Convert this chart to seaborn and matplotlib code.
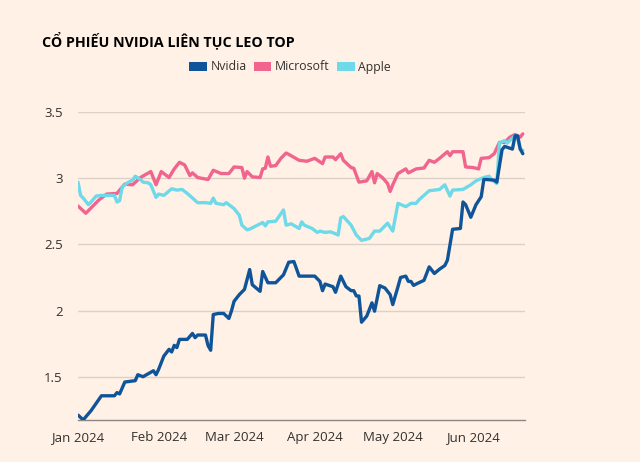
import matplotlib
matplotlib.use("Agg")
import matplotlib.pyplot as plt
from matplotlib.patches import Patch
import pandas as pd
import seaborn as sns

title = "CỔ PHIẾU NVIDIA LIÊN TỤC LEO TOP"
series_names = ["Nvidia", "Microsoft", "Apple"]
series_colors = ["#0F5499", "#F0648E", "#6ED9E8"]

msft_dates = ["2024-01-01", "2024-01-04", "2024-01-09", "2024-01-12", "2024-01-16", "2024-01-17",
              "2024-01-19", "2024-01-22", "2024-01-25", "2024-01-29", "2024-01-31", "2024-02-02",
              "2024-02-05", "2024-02-07", "2024-02-09", "2024-02-11", "2024-02-13", "2024-02-14",
              "2024-02-16", "2024-02-20", "2024-02-22", "2024-02-25", "2024-02-28", "2024-03-01",
              "2024-03-04", "2024-03-05", "2024-03-06", "2024-03-08", "2024-03-11", "2024-03-12",
              "2024-03-13", "2024-03-14", "2024-03-15", "2024-03-17", "2024-03-19", "2024-03-21",
              "2024-03-22", "2024-03-26", "2024-03-29", "2024-04-01", "2024-04-04", "2024-04-05",
              "2024-04-08", "2024-04-09", "2024-04-11", "2024-04-12", "2024-04-15", "2024-04-16",
              "2024-04-18", "2024-04-21", "2024-04-23", "2024-04-24", "2024-04-25", "2024-04-27",
              "2024-04-29", "2024-04-30", "2024-05-01", "2024-05-03", "2024-05-06", "2024-05-07",
              "2024-05-10", "2024-05-13", "2024-05-15", "2024-05-17", "2024-05-19", "2024-05-22",
              "2024-05-23", "2024-05-24", "2024-05-28", "2024-05-29", "2024-06-01", "2024-06-03",
              "2024-06-04", "2024-06-07", "2024-06-09", "2024-06-11", "2024-06-13", "2024-06-15",
              "2024-06-17", "2024-06-19", "2024-06-20"]
msft_vals = [2.79, 2.735, 2.835, 2.88, 2.885, 2.91,
             2.955, 2.95, 3.005, 3.05, 2.95, 3.05,
             3.005, 3.07, 3.12, 3.10, 3.02, 3.04,
             3.005, 2.99, 3.06, 3.035, 3.035, 3.085,
             3.08, 3.0, 3.05, 3.01, 3.005, 3.07,
             3.075, 3.16, 3.09, 3.095, 3.15, 3.19,
             3.18, 3.135, 3.128, 3.15, 3.11, 3.16,
             3.16, 3.14, 3.185, 3.135, 3.08, 3.075,
             2.97, 2.98, 3.05, 2.965, 3.035, 3.005,
             2.96, 2.90, 2.95, 3.035, 3.07, 3.04,
             3.07, 3.077, 3.135, 3.12, 3.15, 3.20,
             3.17, 3.20, 3.20, 3.085, 3.08, 3.07,
             3.15, 3.155, 3.185, 3.27, 3.27, 3.31,
             3.33, 3.31, 3.335]

aapl_dates = ["2024-01-01", "2024-01-02", "2024-01-03", "2024-01-05", "2024-01-06", "2024-01-08",
              "2024-01-10", "2024-01-15", "2024-01-16", "2024-01-17", "2024-01-18", "2024-01-20",
              "2024-01-22", "2024-01-23", "2024-01-25", "2024-01-26", "2024-01-28", "2024-01-29",
              "2024-01-31", "2024-02-01", "2024-02-03", "2024-02-06", "2024-02-08", "2024-02-10",
              "2024-02-12", "2024-02-14", "2024-02-16", "2024-02-19", "2024-02-21", "2024-02-22",
              "2024-02-23", "2024-02-26", "2024-02-27", "2024-03-01", "2024-03-03", "2024-03-04",
              "2024-03-06", "2024-03-07", "2024-03-10", "2024-03-12", "2024-03-13", "2024-03-14",
              "2024-03-17", "2024-03-20", "2024-03-21", "2024-03-23", "2024-03-26", "2024-03-27",
              "2024-03-28", "2024-03-31", "2024-04-02", "2024-04-03", "2024-04-05", "2024-04-07",
              "2024-04-09", "2024-04-10", "2024-04-11", "2024-04-12", "2024-04-15", "2024-04-17",
              "2024-04-19", "2024-04-22", "2024-04-24", "2024-04-26", "2024-04-29", "2024-05-01",
              "2024-05-03", "2024-05-06", "2024-05-08", "2024-05-10", "2024-05-11", "2024-05-15",
              "2024-05-17", "2024-05-19", "2024-05-21", "2024-05-23", "2024-05-24", "2024-05-28",
              "2024-05-31", "2024-06-02", "2024-06-05", "2024-06-07", "2024-06-08", "2024-06-10",
              "2024-06-11", "2024-06-13", "2024-06-14", "2024-06-17", "2024-06-18", "2024-06-19",
              "2024-06-20"]
aapl_vals = [2.97, 2.87, 2.85, 2.80, 2.82, 2.865,
             2.87, 2.87, 2.82, 2.83, 2.935, 2.965,
             2.985, 3.015, 2.99, 2.97, 2.965, 2.95,
             2.855, 2.88, 2.87, 2.92, 2.91, 2.915,
             2.885, 2.85, 2.815, 2.815, 2.81, 2.85,
             2.81, 2.80, 2.815, 2.77, 2.72, 2.645,
             2.61, 2.615, 2.645, 2.665, 2.64, 2.67,
             2.675, 2.76, 2.645, 2.655, 2.62, 2.67,
             2.645, 2.62, 2.59, 2.60, 2.59, 2.595,
             2.58, 2.57, 2.70, 2.71, 2.645, 2.57,
             2.53, 2.545, 2.60, 2.60, 2.66, 2.60,
             2.81, 2.785, 2.81, 2.81, 2.835, 2.905,
             2.91, 2.915, 2.95, 2.865, 2.91, 2.915,
             2.95, 2.98, 3.005, 3.015, 2.99, 2.96,
             3.265, 3.285, 3.265, 3.32, 3.30, 3.22,
             3.21]

nvda_dates = ["2024-01-01", "2024-01-03", "2024-01-06", "2024-01-10", "2024-01-15", "2024-01-16",
              "2024-01-17", "2024-01-19", "2024-01-23", "2024-01-24", "2024-01-26", "2024-01-30",
              "2024-01-31", "2024-02-01", "2024-02-03", "2024-02-05", "2024-02-06", "2024-02-07",
              "2024-02-08", "2024-02-09", "2024-02-12", "2024-02-14", "2024-02-15", "2024-02-16",
              "2024-02-19", "2024-02-20", "2024-02-21", "2024-02-22", "2024-02-24", "2024-02-26",
              "2024-02-28", "2024-02-29", "2024-03-01", "2024-03-03", "2024-03-05", "2024-03-07",
              "2024-03-08", "2024-03-11", "2024-03-12", "2024-03-14", "2024-03-17", "2024-03-20",
              "2024-03-22", "2024-03-24", "2024-03-26", "2024-04-01", "2024-04-03", "2024-04-04",
              "2024-04-05", "2024-04-08", "2024-04-09", "2024-04-11", "2024-04-13", "2024-04-15",
              "2024-04-16", "2024-04-17", "2024-04-18", "2024-04-19", "2024-04-21", "2024-04-23",
              "2024-04-24", "2024-04-26", "2024-04-28", "2024-04-30", "2024-05-01", "2024-05-03",
              "2024-05-04", "2024-05-06", "2024-05-07", "2024-05-08", "2024-05-09", "2024-05-11",
              "2024-05-13", "2024-05-15", "2024-05-17", "2024-05-19", "2024-05-21", "2024-05-22",
              "2024-05-24", "2024-05-27", "2024-05-28", "2024-05-29", "2024-05-31", "2024-06-02",
              "2024-06-04", "2024-06-05", "2024-06-06", "2024-06-09", "2024-06-10", "2024-06-12",
              "2024-06-13", "2024-06-16", "2024-06-17", "2024-06-18", "2024-06-19", "2024-06-20"]
nvda_vals = [1.21, 1.174, 1.243, 1.356, 1.356, 1.38,
             1.37, 1.46, 1.47, 1.515, 1.50, 1.545,
             1.515, 1.556, 1.656, 1.707, 1.687, 1.737,
             1.72, 1.782, 1.782, 1.827, 1.795, 1.815,
             1.815, 1.735, 1.70, 1.97, 1.978, 1.978,
             1.94, 1.998, 2.07, 2.12, 2.16, 2.31,
             2.195, 2.145, 2.295, 2.21, 2.21, 2.27,
             2.365, 2.37, 2.26, 2.26, 2.22, 2.15,
             2.20, 2.18, 2.138, 2.26, 2.18, 2.15,
             2.15, 2.11, 2.11, 1.912, 1.958, 2.058,
             1.995, 2.188, 2.17, 2.12, 2.045, 2.18,
             2.25, 2.26, 2.22, 2.22, 2.19, 2.21,
             2.228, 2.33, 2.28, 2.313, 2.34, 2.38,
             2.614, 2.62, 2.82, 2.80, 2.705, 2.80,
             2.86, 2.99, 2.99, 2.985, 2.97, 3.215,
             3.24, 3.22, 3.32, 3.32, 3.22, 3.185]

y_ticks = [1.5, 2.0, 2.5, 3.0, 3.5]
y_tick_labels = ["1.5", "2", "2.5", "3", "3.5"]
x_ticks = ["2024-01-01", "2024-02-01", "2024-03-01", "2024-04-01", "2024-05-01", "2024-06-01"]
x_tick_labels = ["Jan 2024", "Feb 2024", "Mar 2024", "Apr 2024", "May 2024", "Jun 2024"]

bg = "#FFF1E5"
sns.set_theme(style="white")
plt.rcParams["font.family"] = ["Open Sans", "DejaVu Sans"]

fig = plt.figure(figsize=(6.4, 4.62), dpi=100, facecolor=bg)
ax = fig.add_axes([78 / 640, 1 - 420 / 462, (525 - 78) / 640, (420 - 112) / 462])
ax.set_facecolor(bg)

data = {
    "Nvidia": (nvda_dates, nvda_vals),
    "Microsoft": (msft_dates, msft_vals),
    "Apple": (aapl_dates, aapl_vals),
}
color_map = dict(zip(series_names, series_colors))
for name, z in [("Microsoft", 2), ("Apple", 3), ("Nvidia", 4)]:
    d, v = data[name]
    df = pd.DataFrame({"date": pd.to_datetime(d), "value": v})
    sns.lineplot(data=df, x="date", y="value", ax=ax, color=color_map[name],
                 linewidth=2.4, zorder=z, legend=False)

ax.set_xlim(pd.Timestamp("2024-01-01"), pd.Timestamp("2024-06-20 20:00"))
ax.set_ylim(1.173, 3.5)
ax.set_yticks(y_ticks)
ax.set_yticklabels(y_tick_labels)
ax.set_xticks(pd.to_datetime(x_ticks))
ax.set_xticklabels(x_tick_labels)
ax.set_xlabel("")
ax.set_ylabel("")

ax.grid(axis="y", color="#DCD1C7", linewidth=1.0, zorder=0)
ax.grid(axis="x", visible=False)
for s in ["top", "right", "left"]:
    ax.spines[s].set_visible(False)
ax.spines["bottom"].set_color("#8C8580")
ax.spines["bottom"].set_linewidth(1.0)
ax.tick_params(axis="x", which="major", direction="out", length=5, width=1,
               color="#8C8580", labelsize=9.5, labelcolor="#33302E", pad=3)
ax.tick_params(axis="y", length=0, labelsize=9.5, labelcolor="#33302E", pad=11)
for lbl in ax.get_yticklabels():
    lbl.set_horizontalalignment("right")

fig.text(42 / 640, 1 - 40 / 462, title, fontsize=10.3, fontweight="bold",
         color="#000000", va="center", ha="left")

handles = [Patch(facecolor=c, edgecolor="none", label=n) for n, c in zip(series_names, series_colors)]
leg = fig.legend(handles=handles, loc="center", bbox_to_anchor=(290 / 640, 1 - 67 / 462),
                 ncol=3, frameon=False, fontsize=8.8, handlelength=1.45, handleheight=0.72,
                 handletextpad=0.3, columnspacing=0.6, borderpad=0)
for t in leg.get_texts():
    t.set_color("#33302E")

fig.savefig("out.png", dpi=100, facecolor=bg)
